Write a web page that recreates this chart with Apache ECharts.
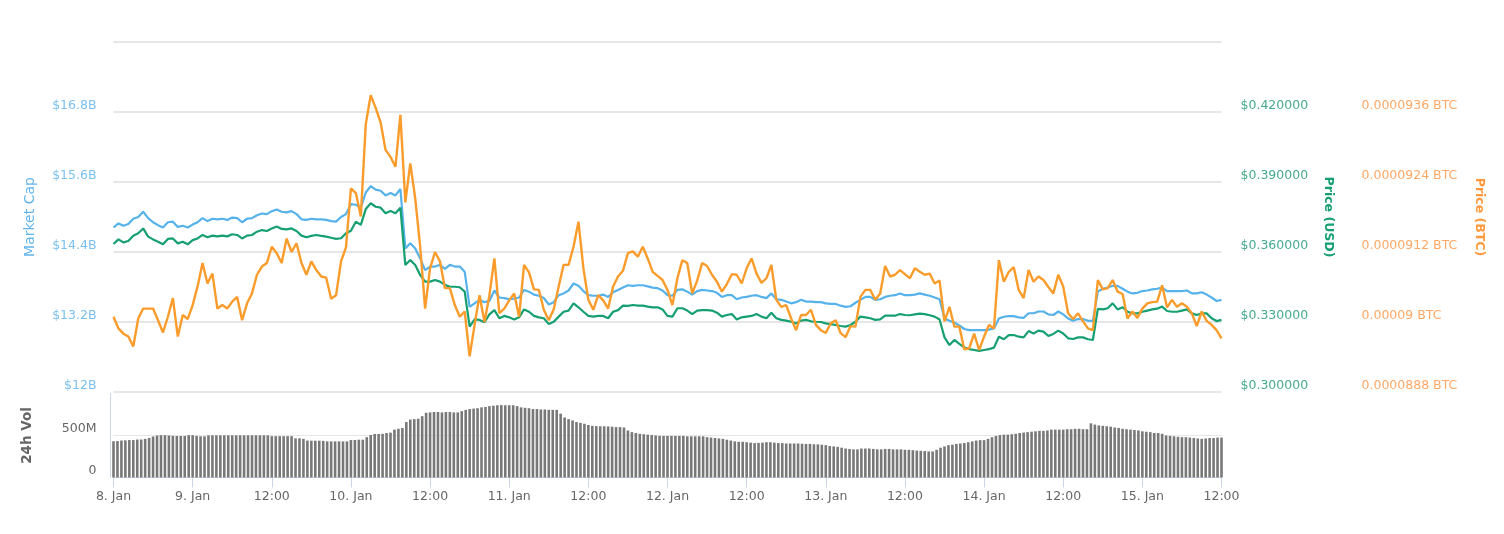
<!DOCTYPE html>
<html lang="en">
<head>
    <meta charset="UTF-8">
    <title>Market Cap / Price / 24h Vol</title>
    <script src="https://cdn.jsdelivr.net/npm/echarts@6/dist/echarts.min.js"></script>
    <style>
        html, body { margin: 0; padding: 0; background: #fff; }
        #chart { width: 1504px; height: 534px; }
    </style>
</head>
<body>
<div id="chart"></div>
<script>
    var tickLabels = ['8. Jan', '9. Jan', '12:00', '10. Jan', '12:00', '11. Jan', '12:00', '12. Jan', '12:00', '13. Jan', '12:00', '14. Jan', '12:00', '15. Jan', '12:00'];
    var capLabels = ['$12B', '$13.2B', '$14.4B', '$15.6B', '$16.8B', ''];
    var usdLabels = ['$0.300000', '$0.330000', '$0.360000', '$0.390000', '$0.420000', ''];
    var btcLabels = ['0.0000888 BTC', '0.00009 BTC', '0.0000912 BTC', '0.0000924 BTC', '0.0000936 BTC', ''];
    var volLabels = ['0', '500M', ''];

    // market cap, billions of USD
    var marketCap = [
        14.82, 14.89, 14.85, 14.88, 14.97, 15.00, 15.09, 14.98, 14.91, 14.86,
        14.82, 14.91, 14.92, 14.83, 14.85, 14.82, 14.87, 14.91, 14.98, 14.93,
        14.97, 14.96, 14.97, 14.95, 14.99, 14.98, 14.91, 14.97, 14.98, 15.03,
        15.06, 15.05, 15.10, 15.13, 15.09, 15.08, 15.10, 15.05, 14.96, 14.95,
        14.97, 14.96, 14.96, 14.95, 14.93, 14.92, 15.00, 15.05, 15.22, 15.21,
        15.16, 15.42, 15.53, 15.47, 15.45, 15.37, 15.41, 15.37, 15.48, 14.46,
        14.55, 14.46, 14.29, 14.09, 14.15, 14.15, 14.18, 14.11, 14.18, 14.15,
        14.15, 14.06, 13.46, 13.52, 13.58, 13.54, 13.56, 13.74, 13.62, 13.61,
        13.59, 13.60, 13.62, 13.75, 13.72, 13.67, 13.65, 13.61, 13.50, 13.54,
        13.66, 13.69, 13.74, 13.86, 13.82, 13.73, 13.66, 13.65, 13.65, 13.67,
        13.63, 13.71, 13.75, 13.79, 13.83, 13.82, 13.83, 13.83, 13.81, 13.79,
        13.78, 13.74, 13.66, 13.65, 13.75, 13.76, 13.72, 13.67, 13.73, 13.75,
        13.74, 13.73, 13.70, 13.63, 13.66, 13.66, 13.59, 13.62, 13.63, 13.65,
        13.66, 13.63, 13.61, 13.69, 13.59, 13.58, 13.55, 13.52, 13.54, 13.58,
        13.55, 13.55, 13.54, 13.54, 13.52, 13.51, 13.51, 13.48, 13.46, 13.47,
        13.53, 13.58, 13.63, 13.63, 13.58, 13.59, 13.63, 13.65, 13.66, 13.69,
        13.66, 13.66, 13.67, 13.69, 13.67, 13.65, 13.62, 13.59, 13.26, 13.22,
        13.19, 13.14, 13.08, 13.06, 13.06, 13.06, 13.06, 13.07, 13.09, 13.26,
        13.29, 13.30, 13.30, 13.28, 13.27, 13.35, 13.35, 13.38, 13.38, 13.33,
        13.32, 13.38, 13.33, 13.26, 13.22, 13.25, 13.25, 13.22, 13.22, 13.72,
        13.77, 13.79, 13.82, 13.82, 13.77, 13.72, 13.69, 13.70, 13.73, 13.74,
        13.76, 13.77, 13.79, 13.73, 13.73, 13.73, 13.73, 13.74, 13.69, 13.69,
        13.71, 13.67, 13.62, 13.56, 13.58
    ];

    // price, USD
    var priceUsd = [
        .3634, .3654, .3641, .3647, .3670, .3680, .3701, .3666, .3654, .3644,
        .3633, .3656, .3658, .3637, .3644, .3633, .3651, .3658, .3673, .3663,
        .3670, .3667, .3670, .3667, .3676, .3673, .3658, .3670, .3673, .3687,
        .3694, .3690, .3701, .3709, .3699, .3697, .3701, .3690, .3670, .3663,
        .3669, .3673, .3669, .3666, .3661, .3656, .3659, .3680, .3691, .3730,
        .3716, .3784, .3809, .3794, .3790, .3766, .3776, .3766, .3790, .3544,
        .3566, .3544, .3501, .3473, .3473, .3480, .3473, .3459, .3451, .3451,
        .3449, .3430, .3280, .3311, .3309, .3299, .3333, .3351, .3316, .3326,
        .3320, .3311, .3320, .3354, .3344, .3326, .3320, .3316, .3291, .3301,
        .3323, .3344, .3349, .3380, .3363, .3344, .3326, .3323, .3326, .3326,
        .3316, .3344, .3351, .3370, .3369, .3373, .3370, .3370, .3366, .3363,
        .3363, .3354, .3326, .3323, .3359, .3359, .3349, .3334, .3349, .3351,
        .3351, .3349, .3340, .3323, .3330, .3334, .3311, .3320, .3323, .3326,
        .3334, .3323, .3316, .3340, .3316, .3309, .3306, .3301, .3294, .3306,
        .3309, .3303, .3301, .3300, .3294, .3291, .3287, .3283, .3280, .3287,
        .3301, .3323, .3320, .3316, .3309, .3311, .3327, .3327, .3327, .3334,
        .3330, .3329, .3333, .3336, .3334, .3329, .3323, .3311, .3234, .3201,
        .3223, .3206, .3191, .3184, .3180, .3176, .3180, .3184, .3190, .3237,
        .3226, .3244, .3244, .3237, .3234, .3261, .3251, .3263, .3259, .3240,
        .3249, .3263, .3251, .3230, .3227, .3234, .3234, .3226, .3223, .3356,
        .3354, .3359, .3380, .3354, .3363, .3344, .3337, .3337, .3344, .3349,
        .3354, .3357, .3366, .3347, .3344, .3344, .3349, .3354, .3337, .3330,
        .3337, .3337, .3316, .3304, .3309
    ];

    // price, units of 1e-7 BTC
    var priceBtc = [
        900.9, 898.9, 898.0, 897.5, 895.8, 900.6, 902.3, 902.3, 902.3, 900.3,
        898.2, 900.9, 904.1, 897.5, 901.2, 900.5, 902.9, 906.1, 910.1, 906.6,
        908.3, 902.3, 902.9, 902.3, 903.5, 904.3, 900.3, 903.2, 904.9, 908.1,
        909.5, 910.1, 912.9, 911.8, 910.1, 914.3, 912.0, 913.5, 910.1, 908.1,
        910.4, 908.9, 907.8, 907.6, 904.0, 904.6, 910.4, 912.8, 922.9, 922.1,
        918.1, 933.9, 938.9, 936.7, 934.2, 929.5, 928.3, 926.6, 935.5, 920.5,
        927.2, 921.2, 912.9, 902.3, 909.2, 912.0, 910.4, 905.8, 905.8, 902.9,
        900.9, 901.8, 894.1, 899.5, 904.6, 900.0, 904.6, 910.9, 901.5, 902.3,
        903.7, 904.9, 900.9, 909.8, 908.5, 905.6, 905.5, 902.1, 900.3, 902.2,
        906.1, 909.8, 909.8, 912.9, 917.2, 909.2, 903.8, 902.1, 904.6, 903.7,
        902.3, 906.1, 907.8, 908.8, 911.8, 912.1, 911.2, 912.9, 910.9, 908.6,
        907.9, 907.2, 905.5, 902.9, 907.5, 910.6, 910.1, 904.9, 907.1, 910.1,
        909.6, 908.1, 906.9, 905.2, 906.5, 908.2, 908.1, 906.6, 909.2, 910.9,
        908.3, 906.7, 907.5, 909.8, 903.8, 902.6, 902.9, 900.6, 898.6, 901.2,
        901.2, 902.1, 899.5, 898.6, 898.1, 899.8, 900.3, 898.1, 897.4, 899.3,
        899.2, 904.3, 905.5, 905.5, 903.8, 904.9, 909.6, 907.8, 908.1, 908.9,
        908.2, 907.5, 909.2, 908.6, 908.1, 908.3, 906.6, 907.1, 900.1, 902.6,
        899.2, 899.2, 895.3, 895.5, 898.0, 895.2, 897.5, 899.5, 898.9, 910.6,
        906.9, 908.6, 909.4, 905.5, 904.1, 908.9, 906.9, 907.8, 907.2, 906.0,
        904.9, 908.1, 906.1, 901.5, 900.5, 901.5, 900.1, 898.9, 898.6, 907.2,
        905.6, 905.8, 907.2, 905.2, 904.8, 900.6, 901.8, 900.7, 902.3, 903.2,
        903.4, 903.5, 906.3, 902.5, 903.8, 902.6, 903.2, 902.6, 901.5, 899.3,
        901.8, 900.2, 899.5, 898.6, 897.2
    ];

    // 24h volume, millions of USD
    var volume = [
        432, 434, 440, 442, 446, 446, 452, 452, 460, 470, 488, 500, 504, 504, 500, 496, 494, 494, 494, 504,
        504, 496, 490, 490, 502, 502, 502, 502, 502, 502, 502, 502, 502, 502, 502, 502, 502, 502, 502, 502,
        492, 492, 492, 492, 492, 492, 466, 466, 460, 440, 438, 438, 438, 436, 430, 430, 430, 430, 430, 430,
        446, 446, 450, 450, 480, 506, 518, 518, 520, 530, 534, 570, 580, 590, 660, 690, 695, 700, 730, 770,
        775, 780, 780, 775, 780, 780, 775, 775, 790, 805, 815, 820, 825, 835, 840, 850, 855, 860, 862, 860,
        860, 860, 850, 835, 830, 825, 815, 815, 810, 810, 805, 805, 805, 760, 715, 695, 680, 660, 650, 640,
        625, 615, 612, 610, 610, 608, 605, 600, 600, 595, 560, 540, 530, 520, 515, 510, 505, 500, 495, 495,
        495, 495, 495, 495, 495, 490, 490, 490, 490, 490, 480, 475, 470, 465, 460, 450, 440, 430, 425, 425,
        420, 415, 410, 412, 415, 420, 420, 415, 410, 410, 405, 405, 405, 405, 402, 400, 400, 395, 395, 390,
        385, 375, 370, 365, 355, 345, 340, 335, 335, 345, 345, 345, 340, 335, 335, 340, 340, 335, 335, 335,
        330, 330, 325, 320, 318, 315, 310, 310, 330, 355, 370, 385, 390, 400, 405, 410, 420, 430, 440, 445,
        445, 460, 480, 495, 505, 510, 510, 515, 520, 530, 535, 540, 545, 550, 555, 555, 560, 570, 570, 570,
        570, 575, 575, 580, 580, 575, 575, 645, 630, 620, 615, 610, 605, 595, 590, 580, 575, 570, 565, 560,
        550, 545, 540, 530, 530, 520, 500, 495, 490, 485, 480, 480, 475, 470, 465, 460, 465, 470, 470, 475,
        475
    ];

    var fontName = 'DejaVu Sans';
    var labelSize = 12.5;
    var lineCats = marketCap.map(function (v, i) { return i; });
    var barCats = volume.map(function (v, i) { return i; });

    function priceAxis(labels, color, name, nameColor, position, extra) {
        var axis = {
            type: 'value',
            position: position,
            gridIndex: 0,
            name: name,
            nameLocation: 'middle',
            nameRotate: -90,
            nameTextStyle: { color: nameColor, fontFamily: fontName, fontSize: 12.5, fontWeight: 'bold' },
            axisLine: { show: false },
            axisTick: { show: false },
            splitLine: { show: false },
            axisLabel: {
                color: color,
                fontFamily: fontName,
                fontSize: labelSize,
                margin: 19,
                verticalAlign: 'bottom',
                formatter: function (value, index) { return labels[index]; }
            }
        };
        for (var k in extra) axis[k] = extra[k];
        return axis;
    }

    var chart = echarts.init(document.getElementById('chart'));
    chart.setOption({
        animation: false,
        backgroundColor: '#fff',
        grid: [
            { left: 113.5, width: 1108, top: 42, height: 350 },
            { left: 113.5, width: 1108, top: 393.5, height: 84 }
        ],
        xAxis: [
            { type: 'category', gridIndex: 0, data: lineCats, boundaryGap: false, show: false },
            {
                type: 'category',
                gridIndex: 1,
                data: barCats,
                boundaryGap: false,
                axisLine: { lineStyle: { color: '#ccd6eb', width: 1 } },
                axisTick: { interval: 19, length: 10, lineStyle: { color: '#ccd6eb' } },
                axisLabel: {
                    interval: 19,
                    color: '#666',
                    fontFamily: fontName,
                    fontSize: labelSize,
                    margin: 13,
                    hideOverlap: false,
                    showMinLabel: true,
                    showMaxLabel: true,
                    formatter: function (value, index) { return tickLabels[index / 20]; }
                }
            }
        ],
        yAxis: [
            {
                type: 'value',
                gridIndex: 0,
                min: 12,
                max: 18,
                interval: 1.2,
                name: 'Market Cap',
                nameLocation: 'middle',
                nameGap: 76,
                nameTextStyle: { color: '#62b5ec', fontFamily: fontName, fontSize: 14 },
                axisLine: { show: false },
                axisTick: { show: false },
                splitLine: { lineStyle: { color: '#e6e6e6', width: 2 } },
                axisLabel: {
                    color: '#7cc0f0',
                    fontFamily: fontName,
                    fontSize: labelSize,
                    margin: 17,
                    verticalAlign: 'bottom',
                    formatter: function (value, index) { return capLabels[index]; }
                }
            },
            priceAxis(usdLabels, '#45ab8c', 'Price (USD)', '#159f6e', 'right', {
                min: 0.30, max: 0.45, interval: 0.03, nameGap: 100
            }),
            priceAxis(btcLabels, '#ffa866', 'Price (BTC)', '#ff9a3c', 'right', {
                min: 888, max: 948, interval: 12, offset: 121, nameGap: 130
            }),
            {
                type: 'value',
                gridIndex: 1,
                min: 0,
                max: 1000,
                interval: 500,
                offset: 3,
                name: '24h Vol',
                nameLocation: 'middle',
                nameGap: 76,
                nameTextStyle: { color: '#666', fontFamily: fontName, fontSize: 13.5, fontWeight: 'bold' },
                axisLine: { show: true, lineStyle: { color: '#ccd6eb' } },
                axisTick: { show: false },
                splitLine: { showMaxLine: false, lineStyle: { color: '#e6e6e6' } },
                axisLabel: {
                    color: '#666',
                    fontFamily: fontName,
                    fontSize: labelSize,
                    margin: 14,
                    verticalAlign: 'bottom',
                    formatter: function (value, index) { return volLabels[index]; }
                }
            }
        ],
        series: [
            {
                name: '24h Vol',
                type: 'bar',
                xAxisIndex: 1,
                yAxisIndex: 3,
                data: volume,
                barWidth: 2.6,
                itemStyle: { color: '#787878' }
            },
            {
                name: 'Market Cap',
                type: 'line',
                xAxisIndex: 0,
                yAxisIndex: 0,
                data: marketCap,
                showSymbol: false,
                lineStyle: { color: '#56b2ea', width: 2.2 }
            },
            {
                name: 'Price (USD)',
                type: 'line',
                xAxisIndex: 0,
                yAxisIndex: 1,
                data: priceUsd,
                showSymbol: false,
                lineStyle: { color: '#169f6f', width: 2.2 }
            },
            {
                name: 'Price (BTC)',
                type: 'line',
                xAxisIndex: 0,
                yAxisIndex: 2,
                data: priceBtc,
                showSymbol: false,
                lineStyle: { color: '#fa9c2c', width: 2.4 }
            }
        ]
    });
</script>
</body>
</html>
